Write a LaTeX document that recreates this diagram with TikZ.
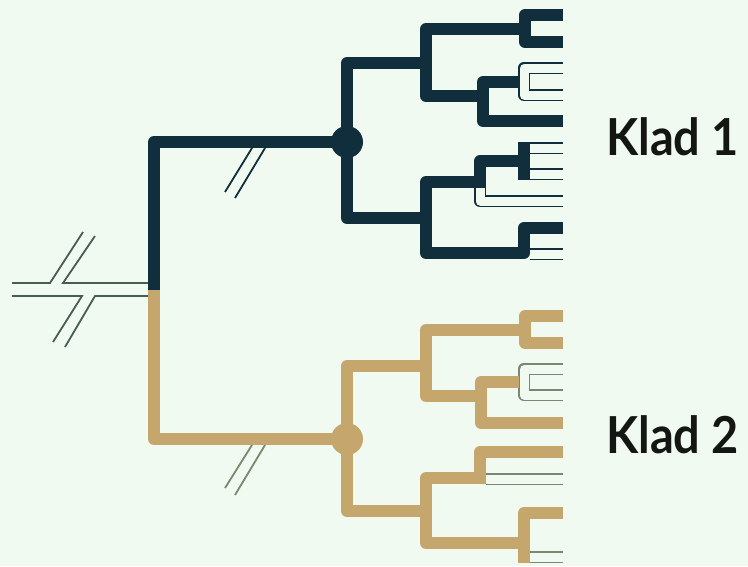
\documentclass[tikz,border=0pt]{standalone}
\usepackage{fontspec}
\usetikzlibrary{calc}
\setmainfont{Lato}
\definecolor{bg}{RGB}{241,250,240}
\definecolor{navy}{RGB}{16,46,60}
\definecolor{gold}{RGB}{197,167,110}
\definecolor{goldline}{RGB}{122,136,114}
\definecolor{rootline}{RGB}{72,92,86}
\definecolor{ink}{RGB}{20,22,20}
\newcommand{\kladtext}[1]{\scalebox{0.92}[1]{#1}}
\begin{document}
\begin{tikzpicture}[x=1pt,y=-1pt,
  br/.style={line width=12pt, line join=round, line cap=butt},
  nv/.style={br, draw=navy},
  gd/.style={br, draw=gold},
  dbl/.style={line width=1.6pt, double=bg, double distance=9pt, line join=round, line cap=butt},
  dblnv/.style={dbl, draw=navy},
  dblgd/.style={dbl, draw=goldline},
  brk/.style={line width=1.8pt},
  rl/.style={line width=1.8pt, draw=rootline, line join=miter},
  lbl/.style={font=\fontsize{51}{60}\selectfont\bfseries, text=ink, inner sep=0pt, anchor=base west}]
\path[use as bounding box, fill=bg] (0,0) rectangle (748,566);

% ---------- coordinates ----------
\coordinate (r) at (154,290);
\coordinate (n1) at (347,142);
\coordinate (n2) at (347,439);
% clade 1
\coordinate (a1t) at (426,63);
\coordinate (a1b) at (426,218);
\coordinate (b1t) at (525,29);
\coordinate (b1b) at (483,96);
\coordinate (c1a) at (563,15);
\coordinate (c1b) at (563,42);
\coordinate (d1t) at (524,82);
\coordinate (d1b) at (563,121);
\coordinate (o1a) at (563,68);
\coordinate (o1b) at (563,95);
\coordinate (e1t) at (480,182);
\coordinate (e1b) at (524,253);
\coordinate (h1) at (563,228);
\coordinate (h1d) at (530,254);
\coordinate (h1e) at (563,254);
\coordinate (f1) at (480,188);
\coordinate (f1e) at (563,201);
\coordinate (g1) at (524,161);
\coordinate (g1u) at (524,142);
\coordinate (g1d) at (524,180);
\coordinate (g1as) at (530,148);
\coordinate (g1ae) at (563,148);
\coordinate (g1bs) at (530,174);
\coordinate (g1be) at (563,174);
% clade 2
\coordinate (a2t) at (426,366);
\coordinate (a2b) at (426,511);
\coordinate (b2t) at (525,330);
\coordinate (b2b) at (481,396);
\coordinate (c2a) at (563,316);
\coordinate (c2b) at (563,343);
\coordinate (d2t) at (524,382);
\coordinate (d2b) at (563,423);
\coordinate (o2a) at (563,369);
\coordinate (o2b) at (563,395);
\coordinate (e2t) at (480,478);
\coordinate (e2b) at (524,543);
\coordinate (f2) at (563,452);
\coordinate (f2d) at (480,484);
\coordinate (f2s) at (486,479);
\coordinate (f2e) at (563,479);
\coordinate (h2) at (563,513);
\coordinate (h2d) at (524,563);
\coordinate (h2s) at (530,557);
\coordinate (h2e) at (563,557);

% ---------- outlined (thin) branches ----------
\draw[dblnv] (o1a) -| (d1t) |- (o1b);
\draw[dblnv] (f1) |- (f1e);
\draw[dblnv] (g1as) -- (g1ae);
\draw[dblnv] (g1bs) -- (g1be);
\draw[dblnv] (h1d) -- (h1e);
\draw[dblgd] (o2a) -| (d2t) |- (o2b);
\draw[dblgd] (f2s) -- (f2e);
\draw[dblgd] (h2s) -- (h2e);

% ---------- clade 1 ----------
\draw[nv] (r) |- (n1);
\draw[nv] (a1t) -| (n1) |- (a1b);
\draw[nv] (b1t) -| (a1t) |- (b1b);
\draw[nv] (c1a) -| (b1t) |- (c1b);
\draw[nv] ($(d1t)+(-5,0)$) -| (b1b) |- (d1b);
\draw[nv] (h1) -| (e1b) -| (a1b) |- (e1t);
\draw[nv] (f1) |- (g1);
\draw[nv] (g1u) -- (g1d);
\fill[navy] (n1) circle[radius=16pt];

% ---------- clade 2 ----------
\draw[gd] (r) |- (n2);
\draw[gd] (a2t) -| (n2) |- (a2b);
\draw[gd] (b2t) -| (a2t) |- (b2b);
\draw[gd] (c2a) -| (b2t) |- (c2b);
\draw[gd] ($(d2t)+(-5,0)$) -| (b2b) |- (d2b);
\draw[gd] (f2) -| (f2d);
\draw[gd] (e2t) -| (a2b) |- (e2b);
\draw[gd] (h2) -| (h2d);
\fill[gold] (n2) circle[radius=16pt];

% ---------- root with break ----------
\coordinate (ru1) at (12,283);
\coordinate (ru2) at (50,283);
\coordinate (ru3) at (83,232);
\coordinate (ru4) at (148,283);
\coordinate (ru5) at (63,283);
\coordinate (ru6) at (95,236);
\coordinate (rd1) at (12,296);
\coordinate (rd2) at (82,296);
\coordinate (rd3) at (53,342);
\coordinate (rd4) at (148,296);
\coordinate (rd5) at (95,296);
\coordinate (rd6) at (65,347);
\draw[rl] (ru1) -- (ru2) -- (ru3);
\draw[rl] (ru4) -- (ru5) -- (ru6);
\draw[rl] (rd1) -- (rd2) -- (rd3);
\draw[rl] (rd4) -- (rd5) -- (rd6);

% ---------- break marks on stems ----------
\coordinate (k1a) at (252,148); \coordinate (k1b) at (225,192);
\coordinate (k1c) at (265,148); \coordinate (k1d) at (235,198);
\coordinate (k2a) at (252,445); \coordinate (k2b) at (225,488);
\coordinate (k2c) at (265,445); \coordinate (k2d) at (235,495);
\draw[brk, navy] (k1a) -- (k1b) (k1c) -- (k1d);
\draw[brk, goldline] (k2a) -- (k2b) (k2c) -- (k2d);

% ---------- labels ----------
\node[lbl] (klad1) at (606,155) {\kladtext{Klad 1}};
\node[lbl] (klad2) at (606,453) {\kladtext{Klad 2}};
\end{tikzpicture}
\end{document}
